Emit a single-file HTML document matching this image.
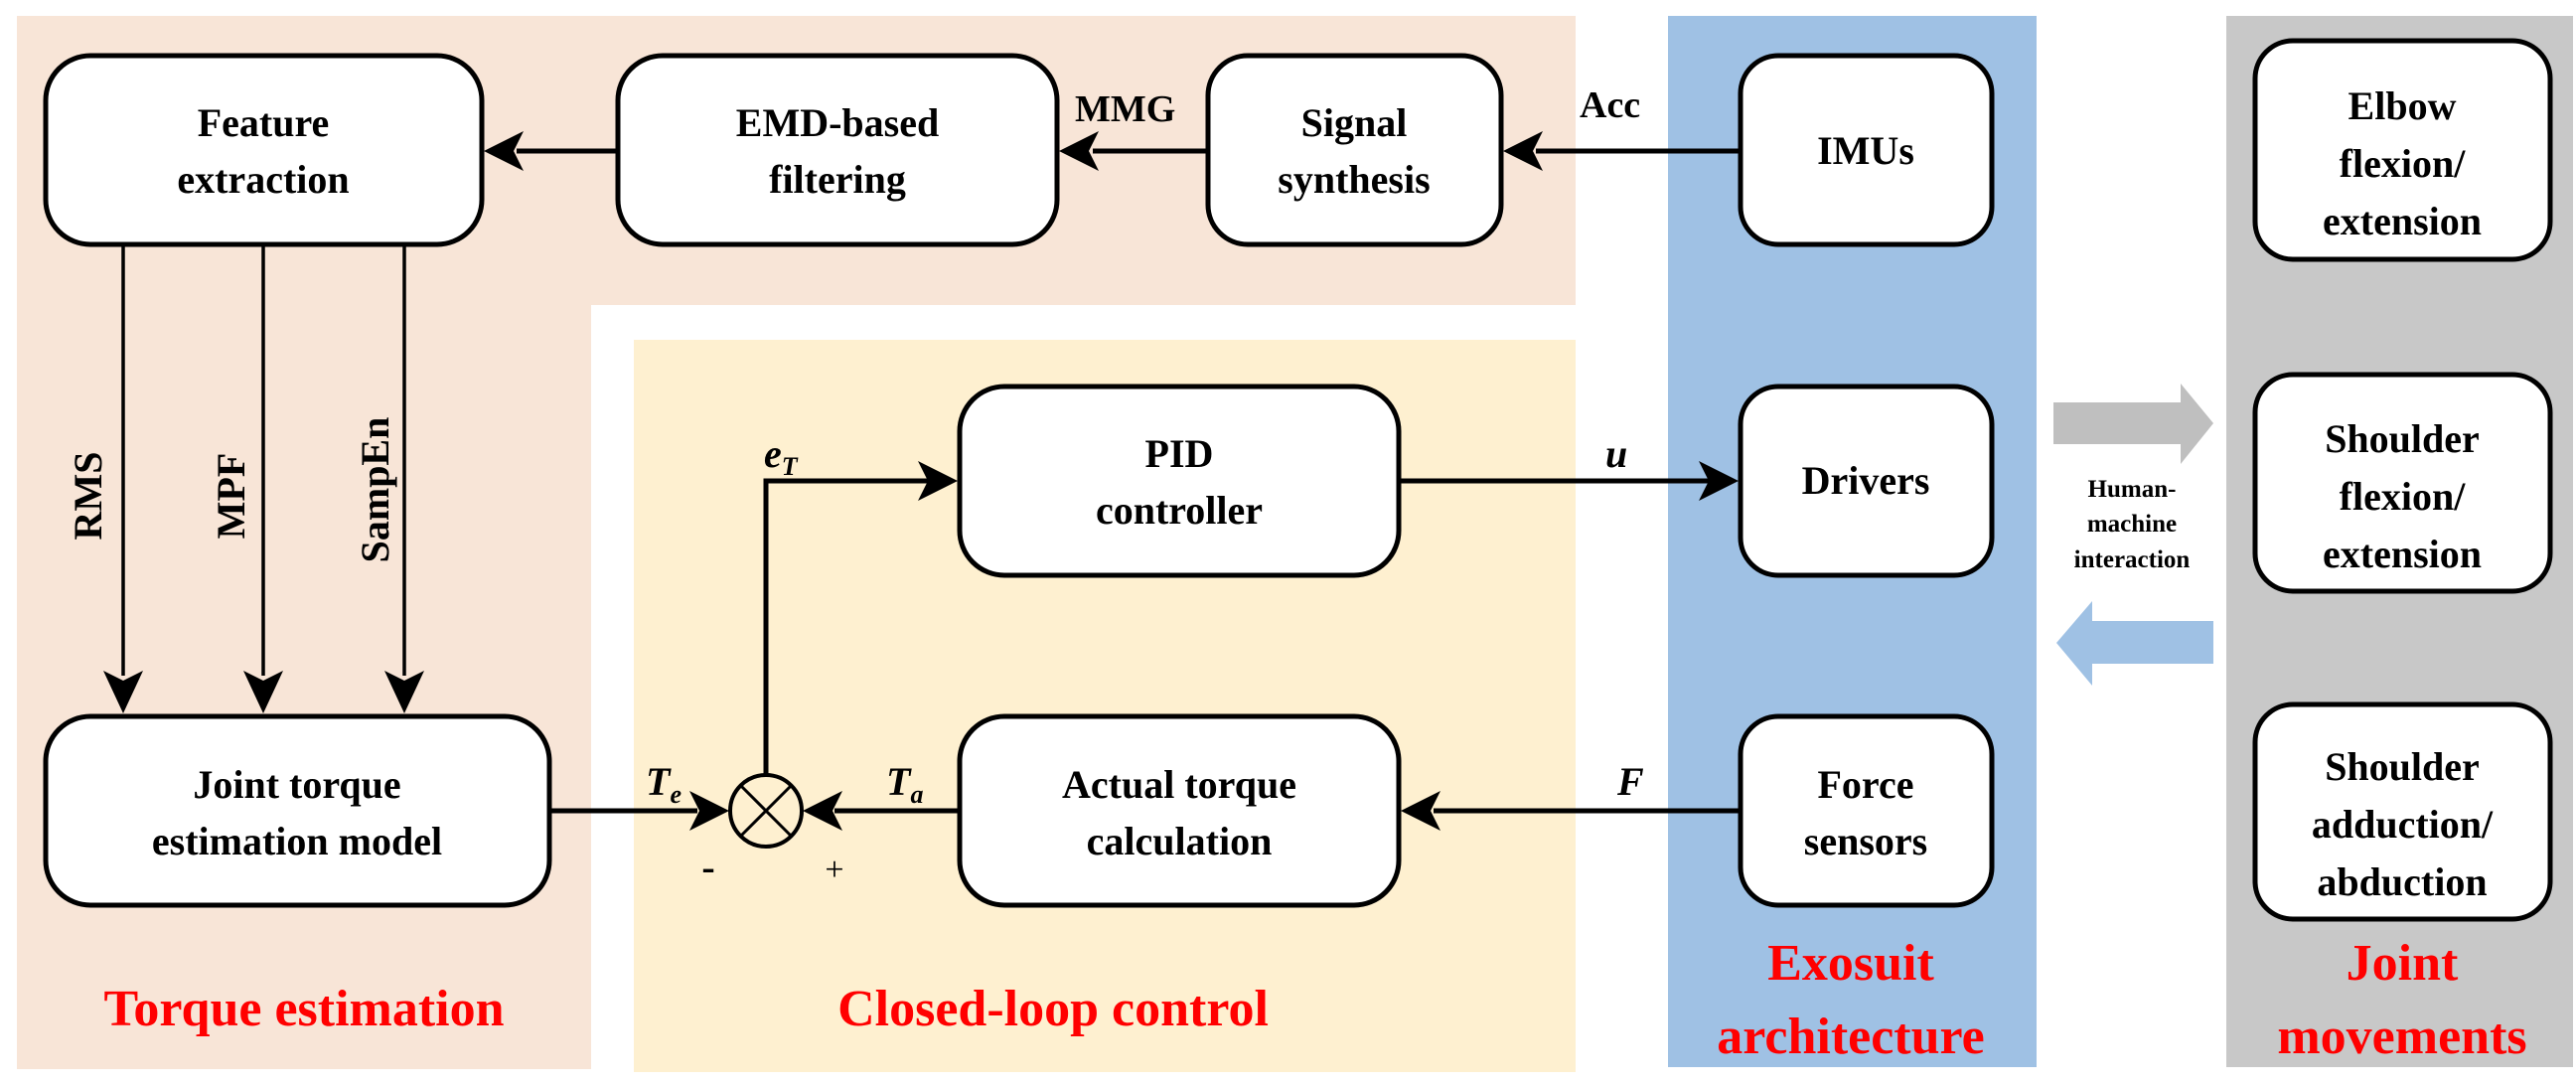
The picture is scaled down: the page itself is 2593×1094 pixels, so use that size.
<!DOCTYPE html>
<html><head><meta charset="utf-8"><style>
html,body{margin:0;padding:0;background:#fff;}
svg{display:block;}
</style></head><body>
<svg width="2593" height="1094" viewBox="0 0 2593 1094" xmlns="http://www.w3.org/2000/svg" font-family="'Liberation Serif', 'DejaVu Serif', serif" font-weight="bold">
<!-- panels -->
<path d="M17 16 H1586 V307 H595 V1076 H17 Z" fill="#f8e5d7"/>
<rect x="638" y="342" width="948" height="737" fill="#fef0d0"/>
<rect x="1679" y="16" width="371" height="1058" fill="#9fc1e4"/>
<rect x="2241" y="16" width="349" height="1058" fill="#c8c8c8"/>

<g fill="#fff" stroke="#000" stroke-width="5">
<rect x="46" y="56" width="439" height="190" rx="45"/>
<rect x="622" y="56" width="442" height="190" rx="45"/>
<rect x="1216" y="56" width="295" height="190" rx="40"/>
<rect x="1752" y="56" width="253" height="190" rx="38"/>
<rect x="2270" y="41" width="297" height="220" rx="38"/>
<rect x="2270" y="377" width="297" height="218" rx="38"/>
<rect x="2270" y="709" width="297" height="216" rx="38"/>
<rect x="46" y="721" width="507" height="190" rx="45"/>
<rect x="966" y="389" width="442" height="190" rx="45"/>
<rect x="966" y="721" width="442" height="190" rx="45"/>
<rect x="1752" y="389" width="253" height="190" rx="38"/>
<rect x="1752" y="721" width="253" height="190" rx="38"/>
</g>

<!-- connectors -->
<g stroke="#000" stroke-width="5" fill="none">
<line x1="622" y1="152" x2="520" y2="152"/>
<line x1="1216" y1="152" x2="1100" y2="152"/>
<line x1="1752" y1="152" x2="1546" y2="152"/>
<line x1="1408" y1="484" x2="1720" y2="484"/>
<polyline points="771,779 771,484 935,484"/>
<line x1="1752" y1="816" x2="1443" y2="816"/>
<line x1="553" y1="816" x2="702" y2="816"/>
<line x1="966" y1="816" x2="840" y2="816"/>
</g>
<g stroke="#000" stroke-width="3.5">
<line x1="124" y1="246" x2="124" y2="680"/>
<line x1="265" y1="246" x2="265" y2="680"/>
<line x1="407" y1="246" x2="407" y2="680"/>
</g>
<g fill="#000">
<polygon points="487,152 527,132 517,152 527,172"/>
<polygon points="1066,152 1106,132 1096,152 1106,172"/>
<polygon points="1513,152 1553,132 1543,152 1553,172"/>
<polygon points="1750,484 1710,464 1720,484 1710,504"/>
<polygon points="964,484 924,464 934,484 924,504"/>
<polygon points="1410,816 1450,796 1440,816 1450,836"/>
<polygon points="734,816 694,796 704,816 694,836"/>
<polygon points="808,816 848,796 838,816 848,836"/>
<polygon points="124,718 104,675 124,685 144,675"/>
<polygon points="265,718 245,675 265,685 285,675"/>
<polygon points="407,718 387,675 407,685 427,675"/>
</g>
<!-- summing junction -->
<circle cx="771" cy="816" r="36" fill="none" stroke="#000" stroke-width="4"/>
<line x1="746" y1="791" x2="796" y2="841" stroke="#000" stroke-width="3"/>
<line x1="796" y1="791" x2="746" y2="841" stroke="#000" stroke-width="3"/>
<text x="713" y="886" font-size="40" text-anchor="middle">-</text>
<text x="840" y="886" font-size="34" font-weight="normal" text-anchor="middle">+</text>

<!-- big arrows -->
<polygon points="2067,405 2195,405 2195,386 2228,426 2195,467 2195,447 2067,447" fill="#bfbfbf"/>
<polygon points="2228,625 2106,625 2106,605 2070,647 2106,690 2106,668 2228,668" fill="#9fc1e4"/>
<g font-size="25" text-anchor="middle">
<text x="2146" y="500">Human-</text>
<text x="2146" y="535">machine</text>
<text x="2146" y="571">interaction</text>
</g>

<!-- box text -->
<g font-size="40" text-anchor="middle">
<text x="265" y="137">Feature</text><text x="265" y="194">extraction</text>
<text x="843" y="137">EMD-based</text><text x="843" y="194">filtering</text>
<text x="1363" y="137">Signal</text><text x="1363" y="194">synthesis</text>
<text x="1878" y="165">IMUs</text>
<text x="1878" y="497">Drivers</text>
<text x="1878" y="803">Force</text><text x="1878" y="860">sensors</text>
<text x="1187" y="470">PID</text><text x="1187" y="527">controller</text>
<text x="1187" y="803">Actual torque</text><text x="1187" y="860">calculation</text>
<text x="299" y="803">Joint torque</text><text x="299" y="860">estimation model</text>
<text x="2418" y="120">Elbow</text><text x="2418" y="178">flexion/</text><text x="2418" y="236">extension</text>
<text x="2418" y="455">Shoulder</text><text x="2418" y="513">flexion/</text><text x="2418" y="571">extension</text>
<text x="2418" y="785">Shoulder</text><text x="2418" y="843">adduction/</text><text x="2418" y="901">abduction</text>
</g>
<!-- connector labels -->
<g font-size="38">
<text x="1082" y="122">MMG</text>
<text x="1590" y="118">Acc</text>
</g>
<g font-size="40" font-style="italic">
<text x="769" y="470">e<tspan font-size="26" dy="8">T</tspan></text>
<text x="1616" y="470">u</text>
<text x="1628" y="800">F</text>
<text x="650" y="800">T<tspan font-size="26" dy="8">e</tspan></text>
<text x="892" y="800">T<tspan font-size="26" dy="8">a</tspan></text>
</g>
<g font-size="40" text-anchor="middle">
<text transform="translate(102,499) rotate(-90)">RMS</text>
<text transform="translate(246,499) rotate(-90)">MPF</text>
<text transform="translate(391,493) rotate(-90)">SampEn</text>
</g>
<!-- red titles -->
<g font-size="52" fill="#ff0000" text-anchor="middle">
<text x="306" y="1032">Torque estimation</text>
<text x="1060" y="1032">Closed-loop control</text>
<text x="1863" y="986">Exosuit</text>
<text x="1863" y="1060">architecture</text>
<text x="2418" y="986">Joint</text>
<text x="2418" y="1060">movements</text>
</g>
</svg>
</body></html>
